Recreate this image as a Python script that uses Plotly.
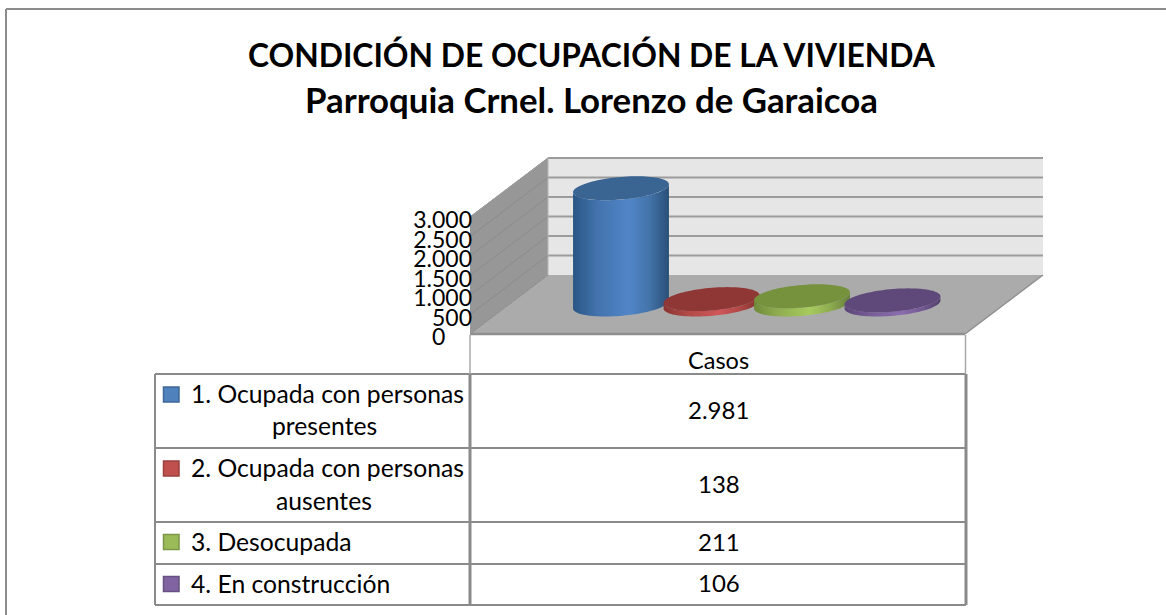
import numpy as np
import plotly.graph_objects as go

# ---------- data ----------
titulo = ["CONDICIÓN DE OCUPACIÓN DE LA VIVIENDA", "Parroquia Crnel. Lorenzo de Garaicoa"]
categoria = "Casos"
series = ["1. Ocupada con personas<br>presentes", "2. Ocupada con personas<br>ausentes",
          "3. Desocupada", "4. En construcción"]
casos = [2981, 138, 211, 106]
ticks = [0, 500, 1000, 1500, 2000, 2500, 3000]
tick_labels = ["0\u2007\u2007", "500", "1.000", "1.500", "2.000", "2.500", "3.000"]

# ---------- styles ----------
W, H = 1166, 615
FONT = "Lato"
C_TOP = ["#3a6492", "#8f3735", "#76923c", "#5f497a"]
C_KEY = ["#4f81bd", "#c0504d", "#9bbb59", "#8064a2"]
C_KEY_LINE = ["#3f6797", "#9a403e", "#7c9647", "#665082"]
SIDE = [
    [(0, "#2a5685"), (0.25, "#4373ad"), (0.58, "#5085c8"), (0.8, "#4373a8"), (1, "#2a4f78")],
    [(0, "#8a3331"), (0.25, "#b04a47"), (0.58, "#d0575a"), (0.8, "#ae4845"), (1, "#7f2f2d")],
    [(0, "#6f8a3a"), (0.25, "#8fad50"), (0.58, "#a7ca5e"), (0.8, "#8dab50"), (1, "#66803a")],
    [(0, "#5a4575"), (0.25, "#755b96"), (0.58, "#8a6dae"), (0.8, "#735a94"), (1, "#53406c")],
]
LINE = "#8a8a8a"

# ---------- scales (px per unit of the oblique projection) ----------
PX_X = 90.5            # one series step
PX_V = 117 / 3000      # one case
X0_PX = 582            # pixel of series 0 on the front plane
Y0_PX = 334            # pixel of value 0 on the front plane
DEPTH_DX = 78 / PX_X   # x shift of the full depth
DEPTH_DV = 59 / PX_V   # vertical shift of the full depth
X_L, X_R = (470 - X0_PX) / PX_X, (965 - X0_PX) / PX_X
R_X, R_D = 0.5, 12 / 59


def project(x, d, v):
    return np.asarray(x) + np.asarray(d) * DEPTH_DX, np.asarray(v) + np.asarray(d) * DEPTH_DV


fig = go.Figure()


def poly(x, d, v, fill=None, gradient=None, line=None, width=0):
    px_, py_ = project(x, d, v)
    kw = dict(x=list(px_) + [px_[0]], y=list(py_) + [py_[0]], fill="toself", hoverinfo="skip", showlegend=False)
    kw["mode"] = "lines" if line else "none"
    if line:
        kw["line"] = dict(color=line, width=width)
    if gradient:
        kw["fillgradient"] = dict(type="horizontal", colorscale=gradient)
    else:
        kw["fillcolor"] = fill
    fig.add_trace(go.Scatter(**kw))


def seg(x, d, v, color, width):
    px_, py_ = project(x, d, v)
    fig.add_trace(go.Scatter(x=px_, y=py_, mode="lines", line=dict(color=color, width=width),
                             hoverinfo="skip", showlegend=False))


top = ticks[-1]
# walls and floor
poly([X_L] * 4, [0, 0, 1, 1], [0, top, top, 0], fill="#979797")
poly([X_L, X_R, X_R, X_L], [1, 1, 1, 1], [0, 0, top, top], fill="#e6e6e6")
poly([X_L, X_R, X_R, X_L], [0, 0, 1, 1], [0, 0, 0, 0], fill="#ababab")
for t in ticks:
    seg([X_L, X_L], [0, 1], [t, t], "#8b8b8b", 1)
    if t:
        seg([X_L, X_R], [1, 1], [t, t], "#9c9c9c", 2)
seg([X_L, X_L], [1, 1], [0, top], "#b4b4b4", 1)
seg([X_R, X_R], [0, 1], [0, 0], "#8f8f8f", 1.5)
seg([X_L, X_R], [0, 0], [0, 0], "#8f8f8f", 2.5)
seg([X_L, X_L], [0, 1], [top, top], "#a0a0a0", 1)

# cylinders
t_r = np.arctan2(R_D * DEPTH_DX, R_X)
arc = np.linspace(t_r + np.pi, t_r + 2 * np.pi, 48)
full = np.linspace(0, 2 * np.pi, 96, endpoint=False)
for i, val in enumerate(casos):
    xa, da = i + R_X * np.cos(arc), 0.5 + R_D * np.sin(arc)
    poly(np.r_[xa, xa[::-1]], np.r_[da, da[::-1]], np.r_[np.zeros_like(xa), np.full_like(xa, val)],
         gradient=SIDE[i])
    poly(i + R_X * np.cos(full), 0.5 + R_D * np.sin(full), np.full_like(full, val), fill=C_TOP[i])

# ---------- layout ----------
px = lambda v: v / W
py = lambda v: 1 - v / H
shapes = []


def rule(x0, y0, x1, y1, color=LINE, width=2):
    shapes.append(dict(type="line", xref="paper", yref="paper", x0=px(x0), x1=px(x1), y0=py(y0), y1=py(y1),
                       line=dict(color=color, width=width)))


# outer frame
rule(6, 9, W, 9, "#8c8c8c", 2)
rule(6, 9, 6, H, "#8c8c8c", 2)
# table
rows = [374, 448, 522, 564, 605]
for r in rows:
    rule(155, r, 966, r)
rule(155, rows[0], 155, rows[-1])
rule(470, rows[0], 470, rows[-1], LINE, 3)
rule(966, rows[0], 966, rows[-1], LINE, 3)
rule(470, 335, 470, rows[0], "#a8a8a8", 1.5)
rule(965.5, 335, 965.5, rows[0], "#a8a8a8", 1.5)

ann = []


def text(s, x, y, size, anchor="center", bold=False):
    ann.append(dict(text=f"<b>{s}</b>" if bold else s, xref="paper", yref="paper", x=px(x), y=py(y),
                    xanchor=anchor, yanchor="middle", showarrow=False, font=dict(size=size, color="#000000", family=FONT)))


text(titulo[0], 591.5, 55, 31.8, bold=True)
text(titulo[1], 591, 99, 34.8, bold=True)
text(categoria, 718.5, 360, 23.5)
centers = [(374 + 448) / 2, (448 + 522) / 2, (522 + 564) / 2, (564 + 605) / 2]
key_y = [394.5, 468.5, 542, 584]
for i, name in enumerate(series):
    text(f"{casos[i]:,}".replace(",", "."), 718.5, centers[i] - 2, 24)
    parts = name.split("<br>")
    if len(parts) == 2:
        text(parts[0], 327, centers[i] - 18, 24.7)
        text(parts[1], 324, centers[i] + 15, 24.7)
    else:
        text(parts[0], 189, centers[i] - 1.5, 24.7, anchor="left")
    shapes.append(dict(type="rect", xref="paper", yref="paper", x0=px(163.5), x1=px(179), y0=py(key_y[i] - 7.5),
                       y1=py(key_y[i] + 7.5), fillcolor=C_KEY[i], line=dict(color=C_KEY_LINE[i], width=1.5)))

fig.update_layout(
    width=W, height=H, margin=dict(l=0, r=0, t=0, b=0), paper_bgcolor="white", plot_bgcolor="white",
    showlegend=False, shapes=shapes, annotations=ann,
    xaxis=dict(visible=False, range=[(0 - X0_PX) / PX_X, (W - X0_PX) / PX_X], fixedrange=True),
    yaxis=dict(range=[(Y0_PX - H) / PX_V, Y0_PX / PX_V], anchor="free", position=px(472), side="left",
               tickmode="array", tickvals=ticks, ticktext=tick_labels, ticks="", showgrid=False, zeroline=False,
               showline=False, ticklabelshift=3, tickfont=dict(size=23, color="#000000", family=FONT),
               fixedrange=True),
    font=dict(family=FONT),
)
fig.write_html("out.html", config=dict(displayModeBar=False),
               post_script="document.body.style.margin='0';document.body.style.overflow='hidden';")
